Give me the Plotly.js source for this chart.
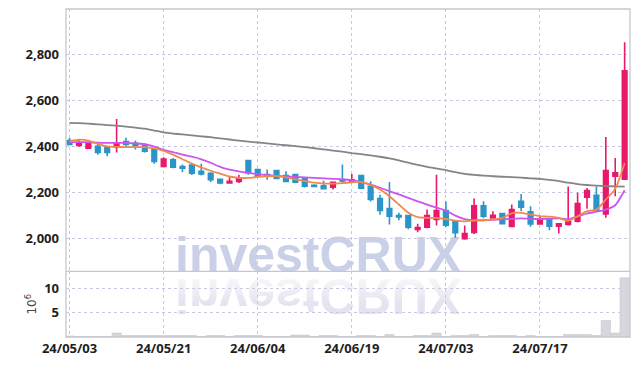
<!DOCTYPE html>
<html>
<head>
<meta charset="utf-8">
<script src="https://cdn.plot.ly/plotly-3.0.1.min.js"></script>
<style>
  html, body { margin: 0; padding: 0; background: #ffffff; }
  #wrap { position: relative; width: 639px; height: 366px; overflow: hidden; }
  .wm { position: absolute; left: 175px; height: 38px; font-family: "Liberation Sans", Arial, sans-serif; font-weight: 900; font-size: 50px; line-height: 38px; white-space: nowrap; color: #c9d0e7; z-index: 0; }
  #wm1 { top: 236px; }
  #wm2 { top: 242px; transform-origin: 50% 36.3px; transform: scaleY(-1); color: #e3e4ef; -webkit-mask-image: linear-gradient(to top, rgba(0,0,0,0.25) 0%, rgba(0,0,0,1) 70%); mask-image: linear-gradient(to top, rgba(0,0,0,0.25) 0%, rgba(0,0,0,1) 70%); }
  #chart { position: absolute; left: 0; top: 0; width: 639px; height: 366px; z-index: 1; }
</style>
</head>
<body>
<div id="wrap">
  <div class="wm" id="wm1">investCRUX</div>
  <div class="wm" id="wm2">investCRUX</div>
  <div id="chart"></div>
</div>
<script>
const dates = ["24/05/03","24/05/07","24/05/08","24/05/09","24/05/10","24/05/13","24/05/14","24/05/16","24/05/17","24/05/20",
"24/05/21","24/05/22","24/05/23","24/05/24","24/05/27","24/05/28","24/05/29","24/05/30","24/05/31","24/06/03",
"24/06/04","24/06/05","24/06/07","24/06/10","24/06/11","24/06/12","24/06/13","24/06/14","24/06/17","24/06/18",
"24/06/19","24/06/20","24/06/21","24/06/24","24/06/25","24/06/26","24/06/27","24/06/28","24/07/01","24/07/02",
"24/07/03","24/07/04","24/07/05","24/07/08","24/07/09","24/07/10","24/07/11","24/07/12","24/07/15","24/07/16",
"24/07/17","24/07/18","24/07/19","24/07/22","24/07/23","24/07/24","24/07/25","24/07/26","24/07/29","24/07/30"];

const openP = [2426,2405,2393,2401,2399,2397,2422,2414,2404,2386,2314,2343,2313,2320,2293,2284,2258,2242,2248,2339,
2300,2278,2296,2274,2278,2260,2232,2230,2223,2256,2246,2274,2227,2174,2130,2100,2100,2040,2049,2083,
2122,2075,1999,2027,2143,2090,2109,2053,2162,2116,2064,2083,2054,2061,2075,2180,2188,2107,2271,2258];
const highP = [2438,2433,2414,2420,2401,2520,2439,2427,2413,2390,2354,2351,2322,2328,2326,2288,2260,2271,2278,2342,
2305,2300,2298,2293,2280,2264,2236,2251,2247,2322,2281,2276,2249,2191,2246,2112,2103,2064,2126,2278,
2162,2080,2057,2174,2162,2119,2111,2148,2194,2141,2095,2086,2068,2227,2199,2220,2227,2442,2351,2854];
const lowP = [2405,2399,2390,2365,2358,2375,2401,2387,2375,2325,2310,2306,2288,2277,2274,2246,2236,2238,2242,2278,
2268,2256,2258,2245,2242,2222,2223,2213,2213,2243,2243,2215,2161,2104,2061,2080,2040,2027,2045,2057,
2050,2003,1995,2020,2088,2088,2063,2049,2119,2051,2060,2036,2022,2057,2070,2130,2120,2090,2184,2258];
const closeP = [2409,2416,2412,2375,2375,2413,2410,2405,2380,2336,2346,2310,2306,2284,2281,2256,2242,2249,2264,2286,
2271,2271,2262,2249,2245,2228,2227,2217,2245,2251,2256,2219,2170,2122,2097,2094,2049,2048,2100,2122,
2058,2025,2022,2143,2097,2101,2065,2126,2136,2064,2083,2054,2064,2075,2152,2209,2123,2296,2286,2730];

const maShort = [2423,2430,2426,2412,2401,2399,2398,2398,2398,2392,2382,2365,2345,2326,2310,2295,2283,2270,2264,2264,
2268,2271,2272,2266,2258,2250,2243,2239,2239,2241,2245,2246,2235,2213,2184,2148,2112,2093,2090,2090,
2085,2078,2075,2078,2078,2083,2090,2110,2112,2104,2098,2095,2090,2077,2097,2119,2126,2170,2216,2329];
const maMid = [2420,2420,2419,2417,2416,2416,2416,2414,2411,2400,2386,2376,2365,2356,2345,2330,2312,2300,2292,2286,
2280,2276,2273,2270,2268,2266,2264,2262,2260,2258,2254,2246,2235,2221,2206,2192,2177,2162,2148,2135,
2122,2100,2085,2080,2080,2081,2083,2086,2088,2086,2085,2087,2088,2084,2096,2109,2117,2126,2145,2210];
const maLong = [2503,2502,2500,2497,2494,2491,2487,2483,2478,2470,2462,2457,2453,2449,2445,2441,2436,2431,2426,2422,
2418,2414,2410,2406,2402,2398,2393,2388,2383,2378,2372,2367,2362,2356,2349,2340,2330,2321,2312,2305,
2298,2289,2281,2277,2274,2271,2269,2267,2265,2262,2260,2255,2250,2243,2237,2233,2230,2228,2227,2226];

const volumeM = [0.2,0.1,0.1,0.1,0.1,0.8,0.3,0.3,0.3,0.3,0.3,0.3,0.3,0.3,0.1,0.3,0.3,0.1,0.3,0.3,
0.3,0.1,0.1,0.1,0.4,0.4,0.1,0.3,0.3,0.1,0.1,0.3,0.3,0.1,0.5,0.1,0.1,0.3,0.3,0.8,
0.1,0.3,0.3,0.5,0.1,0.3,0.3,0.3,0.1,0.3,0.1,0.1,0.1,0.5,0.5,0.5,0.3,3.4,0.8,12.2];

const xTickVals = ["24/05/03","24/05/21","24/06/04","24/06/19","24/07/03","24/07/17"];
const priceTicks = [2000,2200,2400,2600,2800];
const volTicks = [5,10];

const UP = "#e8196b", DOWN = "#2b95c9";
const tickFont = {family: "Open Sans, sans-serif", size: 13, color: "#1e1e1e", weight: 700};
const gridC = "#c9c9de";

const traces = [
  {type: "bar", x: dates, y: volumeM, yaxis: "y2", marker: {color: "#d6d6de", line: {color: "#c4c4cf", width: 0.6}}, hoverinfo: "skip"},
  {type: "candlestick", x: dates, open: openP, high: highP, low: lowP, close: closeP, yaxis: "y",
   increasing: {line: {color: UP, width: 1.6}, fillcolor: UP},
   decreasing: {line: {color: DOWN, width: 1.6}, fillcolor: DOWN}, whiskerwidth: 0},
  {type: "scatter", mode: "lines", x: dates, y: maLong, yaxis: "y", line: {color: "#858585", width: 1.8, shape: "spline", smoothing: 0.6}},
  {type: "scatter", mode: "lines", x: dates, y: maMid, yaxis: "y", line: {color: "#cc55ee", width: 1.8, shape: "spline", smoothing: 0.6}},
  {type: "scatter", mode: "lines", x: dates, y: maShort, yaxis: "y", line: {color: "#f08a4e", width: 1.8, shape: "spline", smoothing: 0.6}}
];

const layout = {
  width: 639, height: 366,
  margin: {l: 66, r: 9, t: 9, b: 28.5},
  paper_bgcolor: "rgba(0,0,0,0)", plot_bgcolor: "rgba(0,0,0,0)",
  showlegend: false, bargap: 0.02,
  xaxis: {type: "category", anchor: "y2", range: [-0.38, 59.57], tickvals: xTickVals, ticktext: xTickVals,
          tickfont: tickFont, showgrid: true, gridcolor: gridC, griddash: "dot", gridwidth: 1,
          ticks: "", zeroline: false, rangeslider: {visible: false}, showline: false, ticklabelstandoff: 2},
  yaxis: {domain: [0.2, 1], range: [1857, 2999], tickvals: priceTicks, tickformat: ",", tickfont: tickFont,
          showgrid: true, gridcolor: gridC, griddash: "dot", zeroline: false, ticks: "", ticklabelstandoff: 6},
  yaxis2: {domain: [0, 0.2], range: [0, 13.5], tickvals: volTicks, tickfont: tickFont,
           showgrid: true, gridcolor: gridC, griddash: "dot", zeroline: false, ticks: "", ticklabelstandoff: 6,
           title: {text: "10<sup>6</sup>", font: {family: "DejaVu Sans, sans-serif", size: 12, color: "#444444"}, standoff: 4}},
  shapes: [
    {type: "rect", xref: "paper", yref: "paper", x0: 0, x1: 1, y0: 0, y1: 1, line: {color: "#c6c6d0", width: 1.3}},
    {type: "line", xref: "paper", yref: "paper", x0: 0, x1: 1, y0: 0.2, y1: 0.2, line: {color: "#c6c6d0", width: 1.3}}
  ]
};

Plotly.newPlot("chart", traces, layout, {staticPlot: true, displayModeBar: false});
</script>
</body>
</html>
